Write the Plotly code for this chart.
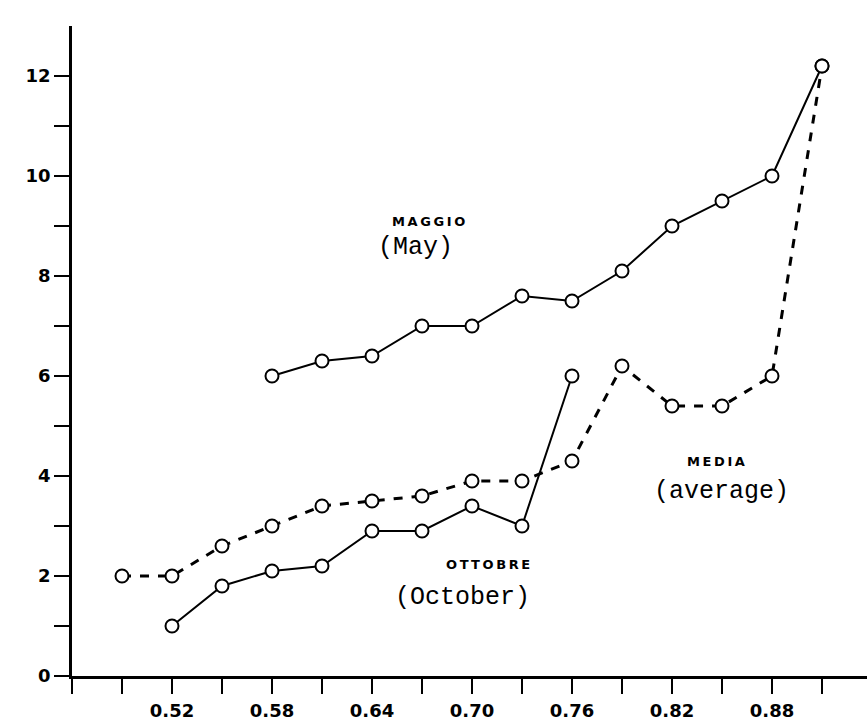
import plotly.graph_objects as go

# Data
x_may = [0.58, 0.61, 0.64, 0.67, 0.70, 0.73, 0.76, 0.79, 0.82, 0.85, 0.88, 0.91]
y_may = [6.0, 6.3, 6.4, 7.0, 7.0, 7.6, 7.5, 8.1, 9.0, 9.5, 10.0, 12.2]

x_avg = [0.49, 0.52, 0.55, 0.58, 0.61, 0.64, 0.67, 0.70, 0.73, 0.76, 0.79, 0.82, 0.85, 0.88, 0.91]
y_avg = [2.0, 2.0, 2.6, 3.0, 3.4, 3.5, 3.6, 3.9, 3.9, 4.3, 6.2, 5.4, 5.4, 6.0, 12.2]

x_oct = [0.52, 0.55, 0.58, 0.61, 0.64, 0.67, 0.70, 0.73, 0.76]
y_oct = [1.0, 1.8, 2.1, 2.2, 2.9, 2.9, 3.4, 3.0, 6.0]

x_tickvals = [0.46, 0.49, 0.52, 0.55, 0.58, 0.61, 0.64, 0.67, 0.70, 0.73, 0.76, 0.79, 0.82, 0.85, 0.88, 0.91]
x_ticktext = ["", "", "0.52", "", "0.58", "", "0.64", "", "0.70", "", "0.76", "", "0.82", "", "0.88", ""]
y_tickvals = list(range(0, 13))
y_ticktext = ["0", "", "2", "", "4", "", "6", "", "8", "", "10", "", "12"]

marker_style = dict(symbol="circle", size=13, color="white", line=dict(color="black", width=2))

fig = go.Figure()
fig.add_trace(go.Scatter(x=x_avg, y=y_avg, mode="lines+markers",
                         line=dict(color="black", width=3, dash="dash"),
                         marker=marker_style, showlegend=False, cliponaxis=False))
fig.add_trace(go.Scatter(x=x_oct, y=y_oct, mode="lines+markers",
                         line=dict(color="black", width=2),
                         marker=marker_style, showlegend=False, cliponaxis=False))
fig.add_trace(go.Scatter(x=x_may, y=y_may, mode="lines+markers",
                         line=dict(color="black", width=2),
                         marker=marker_style, showlegend=False, cliponaxis=False))

small = dict(family="DejaVu Sans", size=13, color="black", weight="bold")
big = dict(family="Liberation Mono", size=25, color="black")

def spaced(s):
    return "\u2009".join(s)

annots = [
    (spaced("MAGGIO"), 0.6736, 9.10, small),
    ("(May)", 0.6658, 8.58, big),
    (spaced("MEDIA"), 0.8464, 4.30, small),
    ("(average)", 0.8494, 3.70, big),
    (spaced("OTTOBRE"), 0.7096, 2.24, small),
    ("(October)", 0.694, 1.58, big),
]
for text, ax_, ay_, f in annots:
    fig.add_annotation(x=ax_, y=ay_, text=text, showarrow=False, font=f,
                       xanchor="center", yanchor="middle")

tick_font = dict(family="DejaVu Sans", size=18, color="black", weight="bold")

fig.update_layout(
    width=867, height=723,
    margin=dict(l=72, r=0, t=26, b=47),
    paper_bgcolor="white", plot_bgcolor="white",
    xaxis=dict(range=[0.46, 0.937], tickvals=x_tickvals, ticktext=x_ticktext,
               showgrid=False, zeroline=False, showline=True, linecolor="black", linewidth=2.5,
               ticks="outside", ticklen=15, tickwidth=2, tickcolor="black",
               ticklabelstandoff=2, tickfont=tick_font, automargin=False),
    yaxis=dict(range=[0, 13], tickvals=y_tickvals, ticktext=y_ticktext,
               showgrid=False, zeroline=False, showline=True, linecolor="black", linewidth=2.5,
               ticks="outside", ticklen=15, tickwidth=2, tickcolor="black",
               tickfont=tick_font, automargin=False),
)

fig.write_html("out.html", config={"displayModeBar": False},
               post_script="document.body.style.margin='0';document.body.style.overflow='hidden';")
